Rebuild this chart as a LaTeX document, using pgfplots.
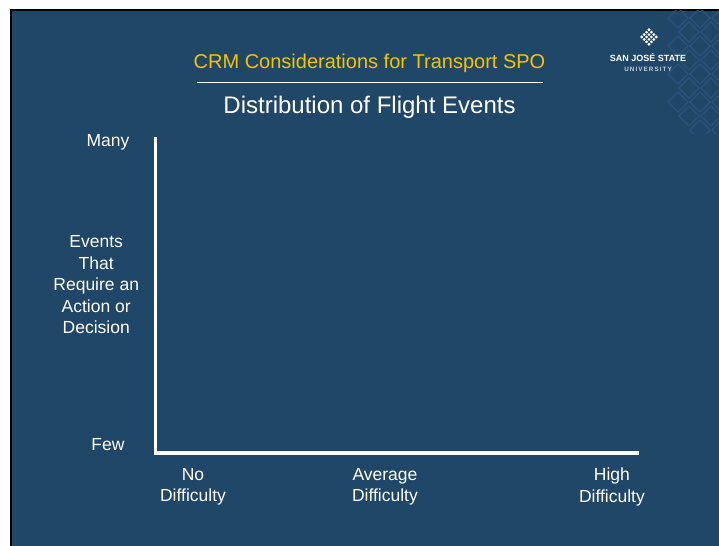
\documentclass[border=0pt]{standalone}
\usepackage{pgfplots}
\pgfplotsset{compat=1.18}
\usepackage{fontspec}
\setmainfont{Liberation Sans}
\newfontfamily\logofont[LetterSpace=17]{Liberation Sans}

\definecolor{slidebg}{RGB}{32,70,104}
\definecolor{titleyellow}{RGB}{245,196,0}
\definecolor{patternblue}{RGB}{42,84,124}
\definecolor{unigray}{RGB}{196,208,222}

\newcommand{\lbl}{\fontsize{17.5bp}{21.5bp}\selectfont}

\begin{document}
\begin{tikzpicture}
    \useasboundingbox (0,0) rectangle (719bp,546bp);
    \begin{scope}[x=1bp, y=1bp]
    % slide frame
    \fill[white] (0,0) rectangle (719,546);
    \fill[black] (10,0) rectangle (719,537);
    \fill[slidebg] (12,0) rectangle (719,535);

    % faint diamond pattern at the right edge
    \begin{scope}
        \clip (664,412) rectangle (719,535);
        \foreach \cx/\cy in {678/528,700/528,722/528,689/514,711/514,678/500,700/500,722/500,
                              689/486,711/486,678/472,700/472,722/472,689/458,711/458,678/444,700/444,722/444,
                              689/430,711/430,700/416,722/416} {
            \draw[patternblue, line width=1.2bp] (\cx,\cy+10) -- (\cx+10,\cy) -- (\cx,\cy-10) -- (\cx-10,\cy) -- cycle;
        }
    \end{scope}

    % logo
    \begin{scope}[shift={(649,509)}, rotate=45]
        \foreach \i in {-1.5,-0.5,0.5,1.5} {
            \foreach \j in {-1.5,-0.5,0.5,1.5} {
                \fill[white] ({\i*3.4-1.1},{\j*3.4-1.1}) rectangle ({\i*3.4+1.1},{\j*3.4+1.1});
            }
        }
    \end{scope}
    \node[anchor=base, inner sep=0, text=white, font=\fontsize{9bp}{10bp}\selectfont\bfseries] at (648,484) {SAN JOSÉ STATE};
    \node[anchor=base, inner sep=0, text=unigray, font=\fontsize{6.3bp}{7bp}\logofont\bfseries] at (648,474) {UNIVERSITY};

    % titles
    \node[anchor=base, inner sep=0, text=titleyellow, font=\fontsize{20bp}{24bp}\selectfont] at (369.5,477.7) {CRM Considerations for Transport SPO};
    \draw[white, line width=1bp] (197,463.7) -- (543,463.7);
    \node[anchor=base, inner sep=0, text=white, font=\fontsize{24bp}{28bp}\selectfont] at (369.5,432) {Distribution of Flight Events};
    \end{scope}

    % empty chart
    \begin{axis}[
        at={(155.5bp,93bp)},
        anchor=origin,
        scale only axis,
        width=482bp,
        height=314.5bp,
        xmin=0, xmax=1,
        ymin=0, ymax=1,
        axis lines*=left,
        axis line style={white, line width=3bp, line cap=rect},
        major tick length=0,
        xtick={0.0778,0.476,0.947},
        xticklabels={No\\Difficulty, Average\\Difficulty, High\\Difficulty},
        xticklabel style={align=center, font=\lbl, text=white, inner sep=0, anchor=north, yshift=-15bp},
        ytick={0.026,0.987},
        yticklabels={Few, Many},
        yticklabel style={font=\lbl, text=white, inner sep=0, anchor=center, xshift=-47.5bp},
        ylabel={Events\\That\\Require an\\Action or\\Decision},
        ylabel style={rotate=-90, align=center, font=\lbl, text=white, inner sep=0,
            at={(axis description cs:-0.123,0.535)}, anchor=center},
    ]
    \end{axis}
\end{tikzpicture}
\end{document}
